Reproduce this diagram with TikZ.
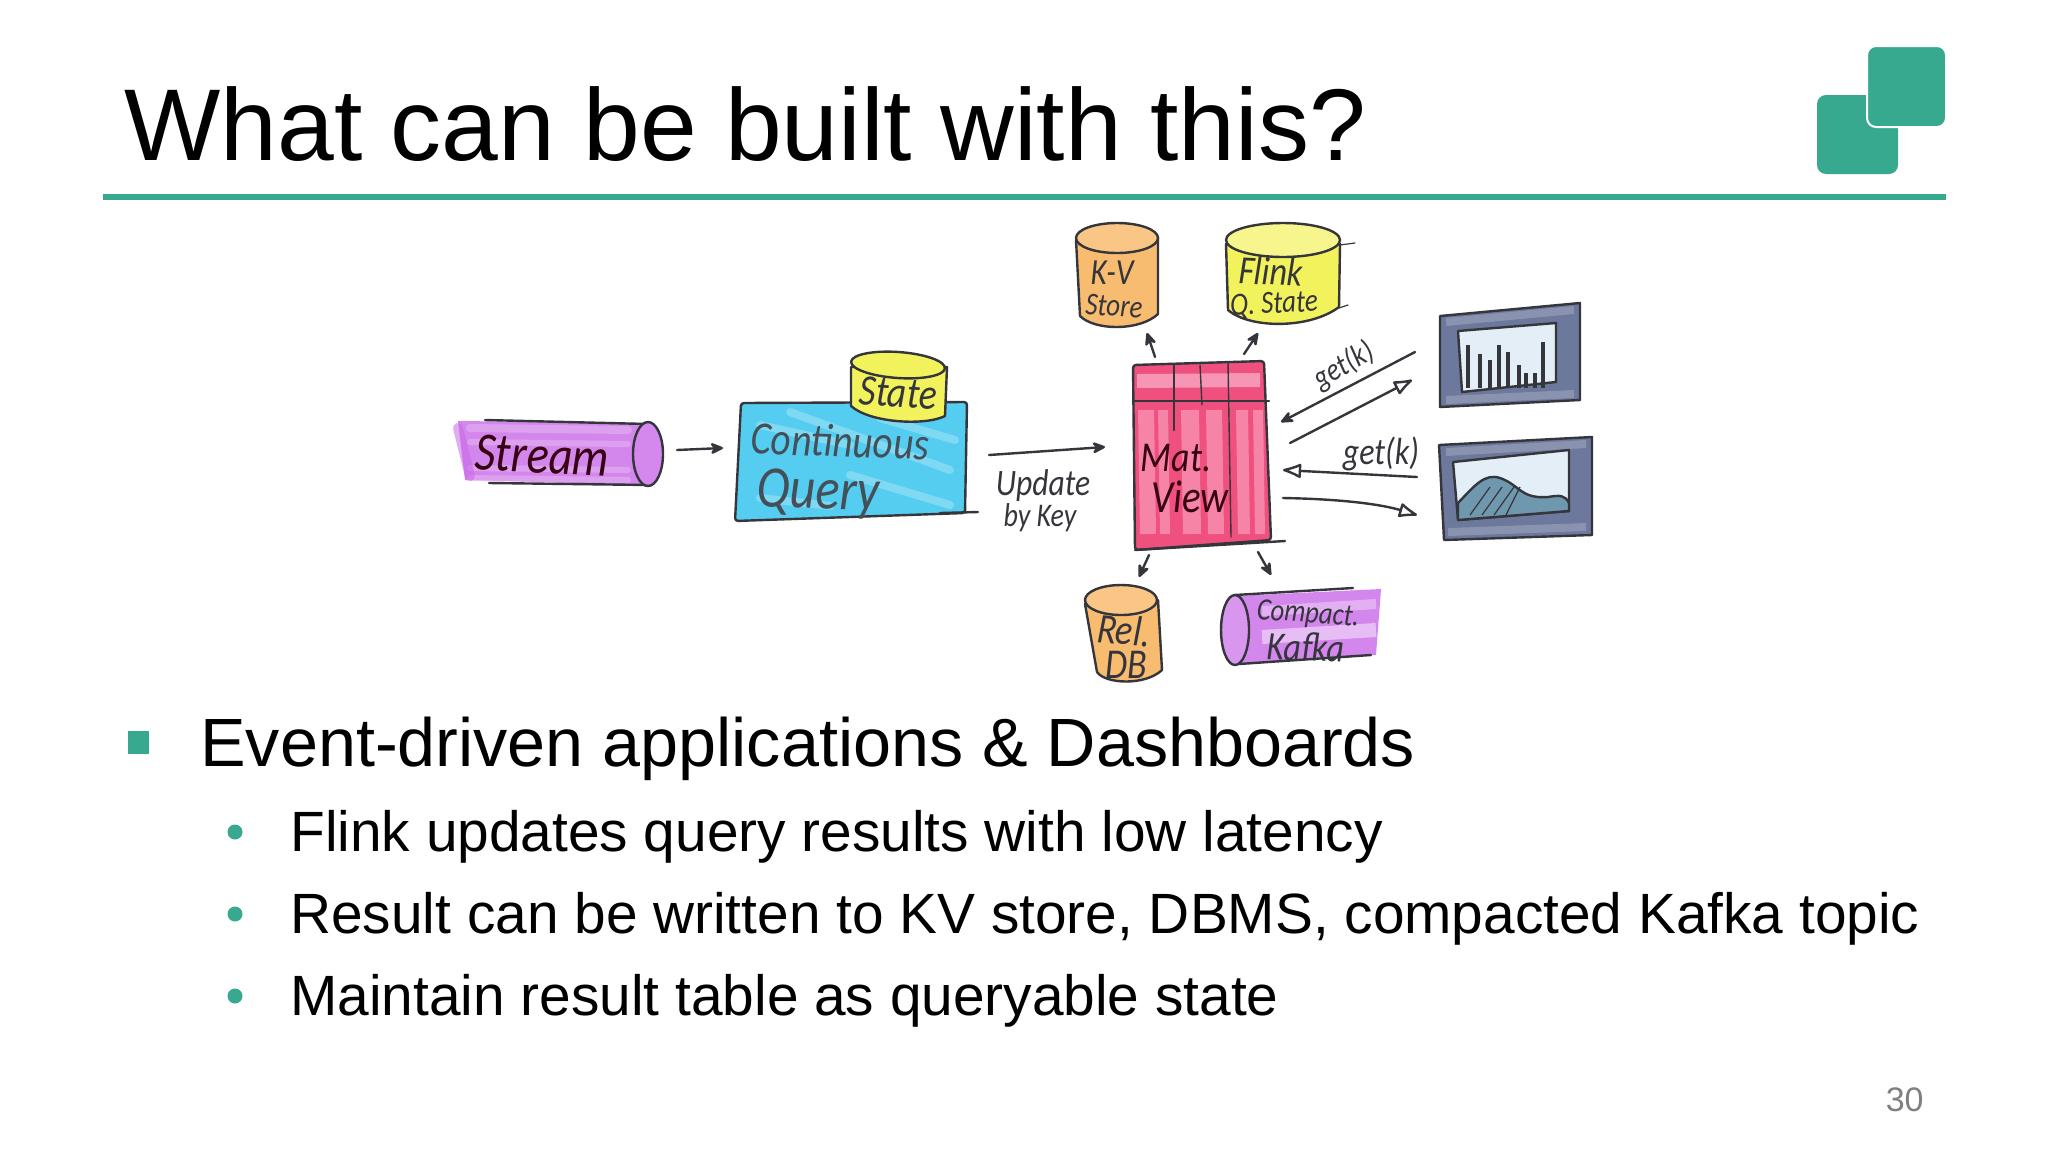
\documentclass[tikz,border=0pt]{standalone}
\usepackage{graphicx}
\usepackage{fontspec}
\setmainfont{Liberation Sans}
\newfontfamily\handfont{Carlito}
\usetikzlibrary{arrows.meta}
\definecolor{teal1}{HTML}{37A98F}
\definecolor{ink}{HTML}{35353C}
\definecolor{purp}{HTML}{C969E8}
\definecolor{purpl}{HTML}{E6B6F2}
\definecolor{cyanq}{HTML}{55CDF0}
\definecolor{yell}{HTML}{F2F25C}
\definecolor{orng}{HTML}{F8BC70}
\definecolor{pinkm}{HTML}{F0507E}
\definecolor{pinkl}{HTML}{F9A8C2}
\definecolor{slate}{HTML}{6C789C}
\definecolor{pale}{HTML}{E4EEF6}
\definecolor{steel}{HTML}{6F97AE}
\newcommand{\hw}[2]{\scalebox{1}[1.18]{\fontsize{#1}{#1}\selectfont\handfont\itshape #2}}
\tikzset{
  x=0.5pt,y=-0.5pt,
  sk/.style={draw=ink,line width=1.2pt,line join=round,line cap=round},
  wob/.style={rounded corners=1.5pt},
  smear/.style={line cap=round,opacity=.55},
  hand/.style={inner sep=0pt,text=#1},
  arr/.style={sk,-{Stealth[length=8pt,width=7pt,round]}},
  arro/.style={sk,-{Latex[open,length=11pt,width=8pt,round,fill=white]}},
  titletext/.style={anchor=base west,inner sep=0pt,font=\fontsize{51}{51}\selectfont,text=black},
  mainitem/.style={anchor=base west,inner sep=0pt,font=\fontsize{34.15}{36}\selectfont,text=black},
  subitem/.style={anchor=base west,inner sep=0pt,font=\fontsize{28.4}{31}\selectfont,text=black},
  subdot/.style={circle,fill=teal1,inner sep=0pt,minimum size=7.5pt},
  logosq/.style={fill=teal1,rounded corners=4.5pt},
}
\begin{document}
\begin{tikzpicture}
\fill[white] (0,0) rectangle (2048,1152);
\useasboundingbox (0,0) rectangle (2048,1152);

% heading
\node[titletext] (title) at (124,160) {What can be built with this?};
\fill[teal1] (103,194) rectangle (1946,200);
\fill[logosq] (1817,95) rectangle (1898,174);
\filldraw[logosq,draw=white,line width=1pt] (1867,46) rectangle (1946,127);

% Stream
\fill[purp,opacity=.8] (458,421) -- (640,423) -- (650,485) -- (465,480) -- cycle;
\foreach \yy/\ww in {428/4,442/3,468/3,478/3}{\draw[purpl,line width=\ww pt,smear] (470,\yy) -- (628,\yy+2);}
\draw[purp,line width=5pt,smear] (458,428) -- (470,476);
\draw[sk] (485,420) -- (648,424);
\draw[sk] (489,483) -- (650,485);
\filldraw[sk,fill=purp!80] (648,454) ellipse [x radius=7.5pt,y radius=16pt];
\node[hand=black!70!purple,rotate=-3] (stream) at (542,456) {\hw{23}{Stream}};
\coordinate (streamOut) at (677,450);
\coordinate (cqIn) at (723,448);
\draw[arr] (streamOut) -- (cqIn);

% Continuous Query
\filldraw[sk,wob,fill=cyanq] (741,403) -- (967,402) -- (965,513) -- (735,521) -- cycle;
\foreach \xa/\ya/\xb/\yb in {760/425/850/445,790/412/950/470,850/475/950/505,760/498/830/506,880/418/955/440}{\draw[white,line width=4pt,smear,opacity=.25] (\xa,\ya) -- (\xb,\yb);}
\draw[sk] (940,513) -- (978,512);
\node[hand=black!75!cyan,rotate=-2] (cqa) at (840,441) {\hw{19.6}{Continuous}};
\node[hand=black!75!cyan,rotate=-2] (cqb) at (818,494) {\hw{25}{Query}};

% State
\filldraw[sk,fill=yell] (851,367) -- (851,406) .. controls (870,423) and (925,426) .. (945,416) -- (947,367) -- cycle;
\filldraw[sk,fill=yell] (898,365) ellipse [x radius=23.5pt,y radius=6.5pt,rotate=-4];
\node[hand=ink,rotate=-4] (state) at (898,393) {\hw{18.6}{State}};
\coordinate (cqOut) at (989,455);
\coordinate (mvIn) at (1105,447);
\draw[arr] (cqOut) -- (mvIn);
\node[hand=ink] (upd) at (1043,486) {\hw{15.8}{Update}};
\node[hand=ink] (byk) at (1040,518) {\hw{14}{by Key}};

% Materialized view
\filldraw[sk,wob,fill=pinkm] (1133,365) -- (1264,361) -- (1271,540) -- (1135,550) -- cycle;
\draw[pinkl,line width=7pt,opacity=.8] (1137,381) -- (1260,380);
\foreach \xx/\ww in {1146/8,1163/5,1190/9,1214/8,1242/6,1258/5}{\draw[pinkl,line width=\ww pt,opacity=.6] (\xx,410) -- (\xx+2,534);}
\draw[sk] (1133,401) -- (1269,401);
\draw[sk] (1174,365) -- (1174,430);
\draw[sk,line width=.7pt] (1200,365) -- (1202,405);
\draw[sk,line width=.7pt] (1228,363) -- (1231,537);
\draw[sk] (1135,550) -- (1285,541);
\node[hand=black!70!purple] (mat) at (1176,458) {\hw{18}{Mat.}};
\node[hand=black!70!purple] (view) at (1190,497) {\hw{19.5}{View}};

% K-V store
\filldraw[sk,fill=orng] (1076,240) -- (1080,316) .. controls (1095,331) and (1140,331) .. (1158,314) -- (1158,238) -- cycle;
\filldraw[sk,fill=orng!85!white] (1117,238) ellipse [x radius=20.5pt,y radius=7.5pt];
\node[hand=ink] (kv) at (1112,273) {\hw{15.6}{K-V}};
\node[hand=ink,rotate=-3] (kvs) at (1114,306) {\hw{13.5}{Store}};

% Flink state
\filldraw[sk,fill=yell] (1226,244) -- (1228,310) .. controls (1250,329) and (1310,329) .. (1339,307) -- (1340,244) -- cycle;
\filldraw[sk,fill=yell!70!white] (1283,240) ellipse [x radius=28.5pt,y radius=8.5pt];
\draw[sk,line width=.6pt] (1340,245) -- (1355,243);
\draw[sk,line width=.6pt] (1339,308) -- (1348,305);
\node[hand=ink,rotate=-3] (fl) at (1271,271) {\hw{17}{Flink}};
\node[hand=ink,rotate=3] (qs) at (1274,305) {\hw{13.6}{Q. State}};

\coordinate (mvKV) at (1155,357); \coordinate (kvIn) at (1147,333);
\coordinate (mvQS) at (1244,354); \coordinate (qsIn) at (1258,333);
\coordinate (mvDB) at (1149,555); \coordinate (dbIn) at (1139,577);
\coordinate (mvKf) at (1258,552); \coordinate (kfIn) at (1271,575);
\draw[arr] (mvKV) -- (kvIn);
\draw[arr] (mvQS) -- (qsIn);
\draw[arr] (mvDB) -- (dbIn);
\draw[arr] (mvKf) -- (kfIn);

% Rel DB
\filldraw[sk,fill=orng] (1085,604) -- (1097,672) .. controls (1105,684) and (1145,686) .. (1162,670) -- (1158,600) -- cycle;
\filldraw[sk,fill=orng!85!white] (1121,600) ellipse [x radius=18pt,y radius=7.5pt];
\node[hand=ink,rotate=-5] (rel) at (1124,630) {\hw{18}{Rel.}};
\node[hand=ink] (db) at (1126,665) {\hw{18}{DB}};

% Compacted Kafka
\fill[purp,opacity=.8] (1235,596) -- (1381,589) -- (1376,655) -- (1239,664) -- cycle;
\draw[white,line width=7pt,opacity=.45] (1262,637) -- (1376,630);
\draw[white,line width=5pt,opacity=.35] (1262,611) -- (1376,604);
\draw[sk] (1235,595) -- (1353,588);
\draw[sk] (1239,664) -- (1371,655);
\filldraw[sk,fill=purp!70] (1235,630) ellipse [x radius=7pt,y radius=17.5pt];
\node[hand=ink,rotate=-4] (cmp) at (1308,615) {\hw{13.3}{Compact.}};
\node[hand=ink,rotate=-2] (kf) at (1306,647) {\hw{17}{Kafka}};

% Dashboard 1
\filldraw[sk,fill=slate] (1440,316) -- (1580,303) -- (1580,400) -- (1440,407) -- cycle;
\draw[white,line width=4pt,opacity=.2] (1446,322) -- (1574,310);
\draw[white,line width=4pt,opacity=.2] (1446,400) -- (1574,394);
\filldraw[sk,fill=pale] (1458,331) -- (1556,323) -- (1556,382) -- (1462,392) -- cycle;
\foreach \xx/\yy in {1468/345,1480/354,1490/360,1499/345,1508/352,1519/365,1526/373,1535/373,1543/342}{\draw[ink,line width=1.8pt] (\xx,\yy) -- (\xx,388);}

% Dashboard 2
\filldraw[sk,fill=slate] (1439,445) -- (1592,437) -- (1592,535) -- (1444,540) -- cycle;
\draw[white,line width=4pt,opacity=.2] (1446,452) -- (1586,444);
\draw[white,line width=4pt,opacity=.2] (1448,532) -- (1586,527);
\filldraw[sk,fill=pale] (1453,462) -- (1569,450) -- (1569,511) -- (1458,520) -- cycle;
\filldraw[sk,fill=steel] (1458,503) .. controls (1475,485) and (1485,473) .. (1500,478) .. controls (1520,485) and (1520,499) .. (1548,497) .. controls (1560,495) and (1565,495) .. (1569,503) -- (1569,511) -- (1458,520) -- cycle;
\foreach \xa/\xb in {1470/1490,1482/1502,1494/1514,1506/1520}{\draw[ink,line width=.6pt] (\xa,515) -- (\xb,487);}

% Requests
\coordinate (d1a) at (1415,352); \coordinate (mva) at (1281,422);
\coordinate (mvb) at (1290,443); \coordinate (d1b) at (1412,380);
\coordinate (d2a) at (1417,477); \coordinate (mvc) at (1283,470);
\coordinate (mvd) at (1283,498); \coordinate (d2b) at (1417,515);
\draw[arr] (d1a) -- (mva);
\draw[arro] (mvb) -- (d1b);
\draw[arro] (d2a) -- (mvc);
\draw[arro] (mvd) .. controls (1340,499) and (1380,504) .. (d2b);
\node[hand=ink,rotate=30] (g1) at (1344,366) {\hw{13.4}{get(k)}};
\node[hand=ink] (g2) at (1381,454) {\hw{16}{get(k)}};

% Text
\fill[teal1] (128,731) rectangle (149,754);
\node[mainitem] (m1) at (200,766) {Event-driven applications \& Dashboards};
\node[subdot] (b1) at (235,832) {};
\node[subitem] (s1) at (290,851) {Flink updates query results with low latency};
\node[subdot] (b2) at (235,914) {};
\node[subitem] (s2) at (290,933) {Result can be written to KV store, DBMS, compacted Kafka topic};
\node[subdot] (b3) at (235,996) {};
\node[subitem] (s3) at (290,1015) {Maintain result table as queryable state};
\node[anchor=base east,inner sep=0pt,text=black!50,font=\fontsize{17}{17}\selectfont] (pg) at (1924,1111) {30};
\end{tikzpicture}
\end{document}
